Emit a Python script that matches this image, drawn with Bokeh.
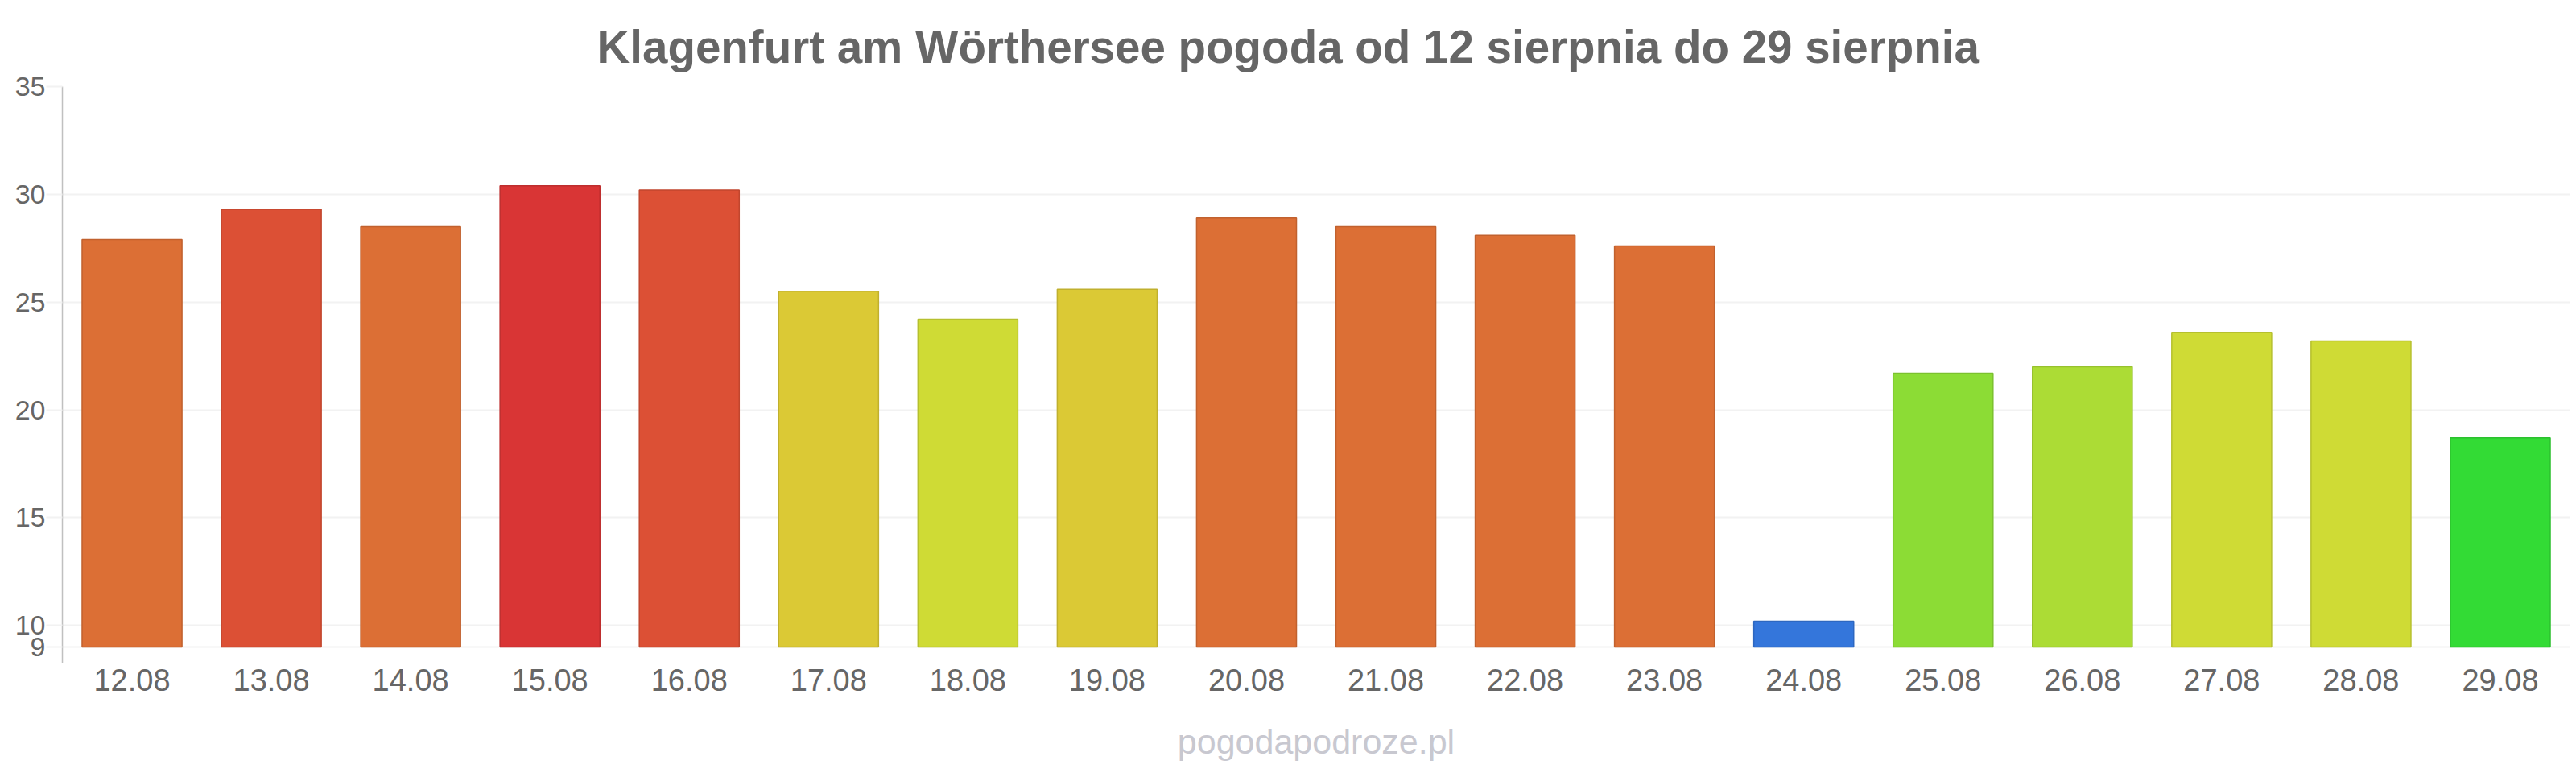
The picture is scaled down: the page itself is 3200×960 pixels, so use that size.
from bokeh.plotting import figure
from bokeh.models import FixedTicker, Range1d, ColumnDataSource, FactorRange
from bokeh.embed import file_html
from bokeh.resources import INLINE

dates = ["12.08", "13.08", "14.08", "15.08", "16.08", "17.08", "18.08", "19.08", "20.08",
         "21.08", "22.08", "23.08", "24.08", "25.08", "26.08", "27.08", "28.08", "29.08"]
temps = [27.9, 29.3, 28.5, 30.4, 30.2, 25.5, 24.2, 25.6, 28.9,
         28.5, 28.1, 27.6, 10.2, 21.7, 22.0, 23.6, 23.2, 18.7]
colors = ["#dc6f35", "#dc5035", "#dc6f35", "#d93535", "#dc5035", "#dbc935", "#cfdb35", "#dbc935", "#dc6f35",
          "#dc6f35", "#dc6f35", "#dc6f35", "#3476db", "#8cdc35", "#acdc35", "#cfdb35", "#cfdb35", "#33db35"]
y_ticks = [9, 10, 15, 20, 25, 30, 35]
title_text = "Klagenfurt am Wörthersee pogoda od 12 sierpnia do 29 sierpnia"
watermark = "pogodapodroze.pl"
base = 9


def darker(c, f=0.88):
    r, g, b = int(c[1:3], 16), int(c[3:5], 16), int(c[5:7], 16)
    return "#%02x%02x%02x" % (int(r * f), int(g * f), int(b * f))


src = ColumnDataSource(dict(x=dates, top=temps, fill=colors,
                            line=[darker(c) for c in colors],
                            bottom=[base] * len(dates)))

FONT = "Liberation Sans"
p = figure(x_range=FactorRange(*dates), y_range=Range1d(8.253, 35),
           width=3192, height=960, output_backend="svg", toolbar_location=None,
           min_border_left=77, min_border_right=0, min_border_top=107, min_border_bottom=137,
           title_location="above")

p.vbar(x="x", top="top", bottom="bottom", width=0.717, source=src,
       fill_color="fill", line_color="line", line_width=1.5)

p.title.text = title_text
p.title.text_font = FONT
p.title.text_font_size = "56.5px"
p.title.text_font_style = "bold"
p.title.text_color = "#666666"
p.title.align = "left"
p.title.offset = 664
p.title.standoff = 35

p.outline_line_color = None
p.background_fill_color = "white"
p.border_fill_color = "white"

p.xgrid.grid_line_color = None
p.ygrid.grid_line_color = "#f2f2f2"
p.ygrid.grid_line_width = 2
p.yaxis.ticker = FixedTicker(ticks=y_ticks)

p.yaxis.axis_line_color = "#c0c0c0"
p.yaxis.axis_line_width = 1.5
p.yaxis.major_tick_out = 20
p.yaxis.major_tick_in = 0
p.yaxis.major_tick_line_color = "#f2f2f2"
p.yaxis.major_tick_line_width = 2
p.yaxis.minor_tick_line_color = None
p.yaxis.major_label_standoff = 1
p.yaxis.major_label_text_font = FONT
p.yaxis.major_label_text_font_size = "34px"
p.yaxis.major_label_text_color = "#666666"

p.xaxis.axis_line_color = None
p.xaxis.major_tick_line_color = None
p.xaxis.minor_tick_line_color = None
p.xaxis.major_tick_out = 0
p.xaxis.major_tick_in = 0
p.xaxis.major_label_standoff = 7
p.xaxis.major_label_text_font = FONT
p.xaxis.major_label_text_font_size = "38px"
p.xaxis.major_label_text_color = "#666666"

# watermark below the dates, as the x axis label
p.xaxis.axis_label = watermark
p.xaxis.axis_label_text_font = FONT
p.xaxis.axis_label_text_font_size = "43px"
p.xaxis.axis_label_text_font_style = "normal"
p.xaxis.axis_label_text_color = "#c8c8d0"
p.xaxis.axis_label_standoff = 36

open("out.html", "w").write(file_html(p, INLINE))
